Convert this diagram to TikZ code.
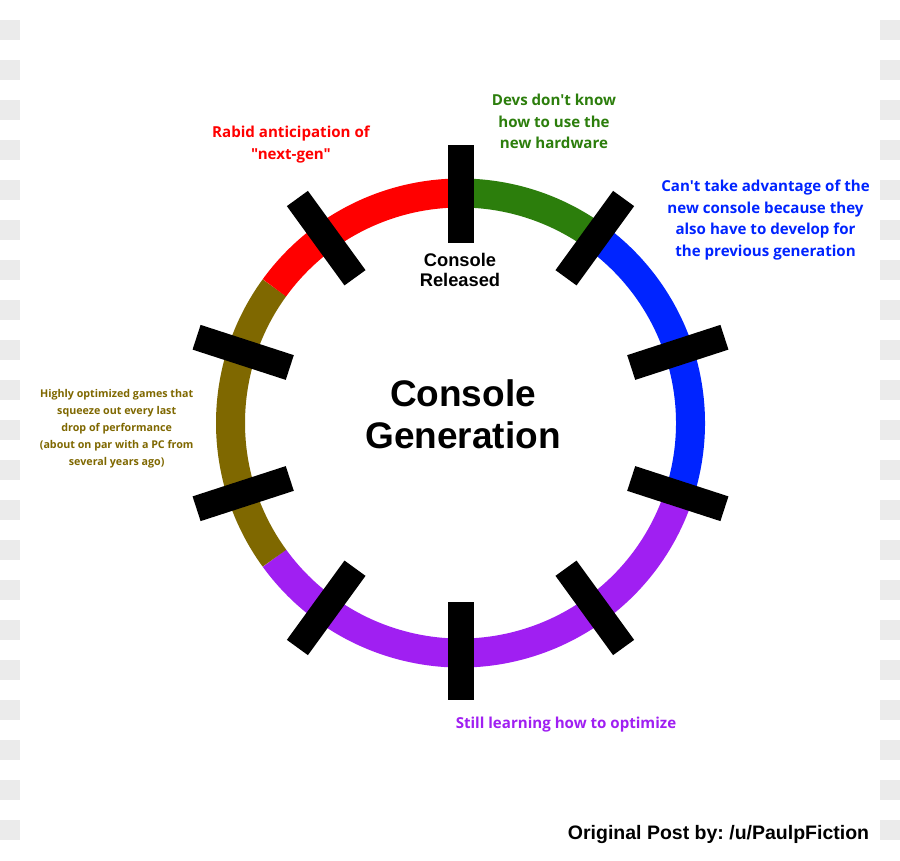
\documentclass[tikz,border=0pt]{standalone}
\usepackage{fontspec}
\usetikzlibrary{calc}
\setmainfont{Liberation Sans}
\newfontfamily\labfont{Open Sans}
\frenchspacing
\definecolor{cgreen}{HTML}{2C7E0C}
\definecolor{cblue}{HTML}{0024FF}
\definecolor{cpurple}{HTML}{A01FF2}
\definecolor{cred}{HTML}{FF0000}
\definecolor{colive}{HTML}{7F6800}
\definecolor{ccheck}{HTML}{EBEBEB}
\tikzset{
  ring/.style={line width=29pt},
  bar/.style={fill=black, draw=none, inner sep=0pt, minimum width=98pt, minimum height=26pt},
  lab/.style={align=center, inner sep=0pt, font=\labfont\bfseries\fontsize{15.1}{21.5}\selectfont},
  smalllab/.style={align=center, inner sep=0pt, font=\labfont\bfseries\fontsize{10.7}{17}\selectfont},
  title/.style={align=center, inner sep=0pt, font=\bfseries\fontsize{37}{42}\selectfont},
}
\begin{document}
\begin{tikzpicture}[x=1pt,y=1pt]
\useasboundingbox (0,0) rectangle (900,860);
\fill[white] (0,0) rectangle (900,860);
% checker squares on the edges
\foreach \k in {0,...,20}{
  \fill[ccheck] (0,{860-40-40*\k}) rectangle (20,{860-20-40*\k});
  \fill[ccheck] (880,{860-40-40*\k}) rectangle (900,{860-20-40*\k});
}
\coordinate (C) at (460.5,437);
% ring segments
\draw[ring, cgreen] (C) ++(90:230) arc[start angle=90, end angle=54, radius=230];
\draw[ring, cblue] (C) ++(54:230) arc[start angle=54, end angle=-18, radius=230];
\draw[ring, cpurple] (C) ++(-18:230) arc[start angle=-18, end angle=-144, radius=230];
\draw[ring, colive] (C) ++(-144:230) arc[start angle=-144, end angle=-216, radius=230];
\draw[ring, cred] (C) ++(144:230) arc[start angle=144, end angle=90, radius=230];
% bars
\foreach \i in {0,...,9}{
  \node[bar, rotate={90-36*\i}] (bar\i) at ($(C)+({90-36*\i}:228.5)$) {};
}
% labels
\node[title] (gen) at (463,446) {Console\\Generation};
\node[align=center, inner sep=0pt, font=\bfseries\fontsize{18.3}{20}\selectfont] (rel) at (460,590) {Console\\Released};
\node[lab, text=cred] (rabid) at (291,715.5) {Rabid anticipation of\\"next-gen"};
\node[lab, text=cgreen] (devs) at (554,738.5) {Devs don't know\\how to use the\\new hardware};
\node[lab, text=cblue] (cant) at (765.5,640) {Can't take advantage of the\\new console because they\\also have to develop for\\the previous generation};
\node[smalllab, text=colive] (opt) at (116.7,431) {Highly optimized games that\\squeeze out every last\\drop of performance\\(about on par with a PC from\\several years ago)};
\node[lab, text=cpurple] (still) at (566,135) {Still learning how to optimize};
\node[inner sep=0pt, font=\bfseries\fontsize{19.5}{22}\selectfont] (post) at (718.5,25) {Original Post by: /u/PaulpFiction};
\end{tikzpicture}
\end{document}
